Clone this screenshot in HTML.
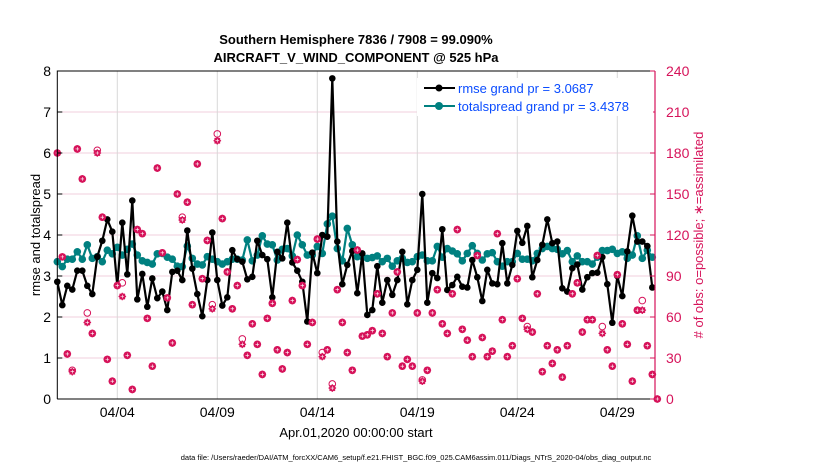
<!DOCTYPE html>
<html><head><meta charset="utf-8"><style>
body{margin:0;background:#fff;}
svg text{font-family:"Liberation Sans",Arial,sans-serif;}
</style></head><body>
<svg id="chart" width="830" height="470" viewBox="0 0 830 470" xmlns="http://www.w3.org/2000/svg">
<rect width="830" height="470" fill="#fff"/>
<g id="grid"></g>
<g id="lines"></g>
<g id="obs"></g>
<g id="axes"></g>
<text x="356" y="44" font-size="13" font-weight="bold" text-anchor="middle">Southern Hemisphere 7836 / 7908 = 99.090%</text>
<text x="356" y="62" font-size="13" font-weight="bold" text-anchor="middle">AIRCRAFT_V_WIND_COMPONENT @ 525 hPa</text>
<text transform="translate(40,235) rotate(-90)" font-size="13" text-anchor="middle">rmse and totalspread</text>
<text transform="translate(703,235) rotate(-90)" font-size="13" text-anchor="middle" fill="#d6135a"># of obs: o=possible; ∗=assimilated</text>
<text x="356" y="437" font-size="13" text-anchor="middle">Apr.01,2020 00:00:00 start</text>
<text x="416" y="460" font-size="7.5" text-anchor="middle">data file: /Users/raeder/DAI/ATM_forcXX/CAM6_setup/f.e21.FHIST_BGC.f09_025.CAM6assim.011/Diags_NTrS_2020-04/obs_diag_output.nc</text>
<g>
<rect x="417" y="78" width="236" height="38" fill="#fff"/>
<line x1="424" y1="88" x2="455" y2="88" stroke="#000" stroke-width="2"/>
<circle cx="439" cy="88" r="3.5" fill="#000"/>
<text x="458" y="93" font-size="13" fill="#0a4cff">rmse grand pr = 3.0687</text>
<line x1="424" y1="106" x2="455" y2="106" stroke="#008080" stroke-width="2"/>
<circle cx="439" cy="106" r="4" fill="#008080"/>
<text x="458" y="111" font-size="13" fill="#0a4cff">totalspread grand pr = 3.4378</text>
</g>
</svg>
<script>
const rmse=[2.86,2.29,2.76,2.67,3.13,3.13,2.76,2.56,3.47,3.86,4.38,4.08,2.76,4.30,3.04,4.84,2.43,3.05,2.25,2.94,2.46,2.62,2.17,3.10,3.13,2.90,4.11,3.18,2.56,2.02,
2.9,4.06,2.9,2.28,2.48,3.63,3.41,3.35,2.92,2.98,3.86,3.51,3.41,2.48,3.59,3.43,4.30,3.33,3.13,2.86,1.89,3.57,3.07,4.0,3.96,7.82,3.84,2.80,3.27,3.61,
2.58,3.55,2.05,2.17,3.24,2.35,2.9,2.54,2.9,3.59,2.31,2.9,3.15,5.0,2.35,3.07,2.95,4.14,2.66,2.78,2.98,2.74,2.72,3.39,2.97,2.39,3.15,2.82,2.8,3.8,
2.82,3.27,4.1,3.81,4.22,2.97,3.39,3.76,4.38,3.8,3.84,2.7,2.62,3.19,3.28,2.67,2.97,3.07,3.08,3.46,2.8,1.86,3.0,2.51,3.6,4.47,3.84,3.84,3.73,2.72];
const spread=[3.35,3.23,3.41,3.41,3.59,3.41,3.76,3.43,3.47,3.35,3.63,3.54,3.70,3.51,3.65,3.78,3.51,3.37,3.33,3.29,3.54,3.55,3.46,3.41,3.24,3.23,3.73,3.43,3.29,3.27,
3.47,3.41,3.35,3.29,3.35,3.41,3.41,3.39,3.88,3.37,3.51,3.98,3.78,3.76,3.39,3.65,3.67,3.49,4.0,3.76,3.51,3.51,3.72,3.55,4.27,4.46,3.67,3.37,4.16,3.76,
3.47,3.47,3.43,3.45,3.49,3.35,3.43,3.24,3.37,3.43,3.33,3.35,3.47,3.51,3.37,3.37,3.72,3.46,3.67,3.61,3.54,3.37,3.55,3.74,3.55,3.39,3.54,3.57,3.35,3.24,
3.35,3.35,3.55,3.41,3.41,3.37,3.55,3.67,3.72,3.67,3.65,3.54,3.62,3.35,3.49,3.35,3.35,3.29,3.46,3.62,3.62,3.65,3.55,3.59,3.43,3.51,3.98,3.43,3.63,3.46];
const possible=[180,104,33,21,183,161,63,48,182,133,29,13,83,85,32,7,124,121,59,24,169,107,74,41,150,133,144,69,172,88,116,
69,194,132,93,66,83,44,32,55,40,18,59,70,36,22,34,72,102,83,40,56,117,34,36,11,80,56,34,21,
109,46,47,50,77,48,31,63,93,24,29,24,63,14,21,63,80,55,48,77,124,51,43,31,105,45,31,35,121,58,31,
39,88,59,53,49,77,20,39,26,36,16,39,77,85,49,58,58,105,53,36,24,91,55,40,13,65,72,39,18,0];
const assimilated=[180,104,33,20,183,161,56,48,180,133,29,13,83,75,32,7,124,121,59,24,169,107,74,41,150,131,144,69,172,88,116,
66,189,132,93,66,83,40,32,55,40,18,59,70,36,22,34,72,102,83,40,56,117,31,36,8,80,56,34,21,
109,46,47,50,77,48,31,63,93,24,29,24,63,13,21,63,80,55,48,77,124,51,43,31,105,45,31,35,121,58,31,
39,88,59,51,49,77,20,39,26,36,16,39,77,85,49,58,58,105,48,36,24,91,55,40,13,65,65,39,18,0];
const yTicks=[0,1,2,3,4,5,6,7,8];
const y2Ticks=[0,30,60,90,120,150,180,210,240];
const xTickDays=[3,8,13,18,23,28];
const xTickLabels=["04/04","04/09","04/14","04/19","04/24","04/29"];
const stepDays=0.25;

const NS="http://www.w3.org/2000/svg";
const X0=57.3,PXD=20,XR=655,Y0=399,YT=71;
const xs=d=>X0+d*PXD;
const ys=v=>Y0-(v/8)*(Y0-YT);
const ys2=c=>Y0-(c/240)*(Y0-YT);
function mk(tag,attrs,parent){const e=document.createElementNS(NS,tag);for(const k in attrs)e.setAttribute(k,attrs[k]);parent.appendChild(e);return e;}
const grid=document.getElementById('grid'),obs=document.getElementById('obs'),lines=document.getElementById('lines'),axes=document.getElementById('axes');

y2Ticks.forEach(c=>{const l=mk('line',{x1:X0,x2:XR,y1:ys2(c),y2:ys2(c),stroke:'#f2cfdc','stroke-width':1},grid);

});
xTickDays.forEach(d=>{const l=mk('line',{x1:xs(d),x2:xs(d),y1:YT,y2:Y0,stroke:'#d8d8d8','stroke-width':1},grid);

});

function series(vals,color,r,name){
const p=mk('polyline',{points:vals.map((v,i)=>xs(i*stepDays)+','+ys(v)).join(' '),fill:'none',stroke:color,'stroke-width':2.2,'stroke-linejoin':'round'},lines);


vals.forEach((v,i)=>{const c=mk('circle',{cx:xs(i*stepDays),cy:ys(v),r:r,fill:color},lines);

});}
series(spread,'#008080',3.8,'totalspread');
series(rmse,'#000',3.3,'rmse');

possible.forEach((c,i)=>{const x=xs(i*stepDays),y=ys2(c);
const o=mk('circle',{cx:x,cy:y,r:3.3,fill:'none',stroke:'#d6135a','stroke-width':1},obs);

});
assimilated.forEach((c,i)=>{const x=xs(i*stepDays),y=ys2(c);
const g=mk('g',{},obs);


mk('circle',{cx:x,cy:y,r:3.2,fill:'#d6135a'},g);
mk('path',{d:`M${x-3.8} ${y}H${x+3.8}M${x} ${y-3.8}V${y+3.8}M${x-2.7} ${y-2.7}L${x+2.7} ${y+2.7}M${x-2.7} ${y+2.7}L${x+2.7} ${y-2.7}`,stroke:'#d6135a','stroke-width':1.2},g);
mk('path',{d:`M${x-1.8} ${y}H${x+1.8}M${x} ${y-1.8}V${y+1.8}`,stroke:'#fff','stroke-width':0.6},g);});

const fr=mk('path',{d:`M${X0} ${Y0}V${YT}H${XR}`,fill:'none',stroke:'#000','stroke-width':1},axes);


const bx=mk('line',{x1:X0,x2:XR,y1:Y0,y2:Y0,stroke:'#000','stroke-width':1},axes);


const ra=mk('line',{x1:XR,x2:XR,y1:YT,y2:Y0,stroke:'#d6135a','stroke-width':1.2},axes);


yTicks.forEach(v=>{const t=mk('text',{x:51,y:ys(v)+5,'font-size':14,'text-anchor':'end'},axes);t.textContent=v;


mk('line',{x1:X0,x2:X0+5,y1:ys(v),y2:ys(v),stroke:'#000'},axes);});
y2Ticks.forEach(c=>{const t=mk('text',{x:666,y:ys2(c)+5,'font-size':14,fill:'#d6135a'},axes);t.textContent=c;


mk('line',{x1:XR-5,x2:XR,y1:ys2(c),y2:ys2(c),stroke:'#d6135a'},axes);});
xTickDays.forEach((d,k)=>{const t=mk('text',{x:xs(d),y:417,'font-size':14,'text-anchor':'middle'},axes);t.textContent=xTickLabels[k];

});
</script>
</body></html>
